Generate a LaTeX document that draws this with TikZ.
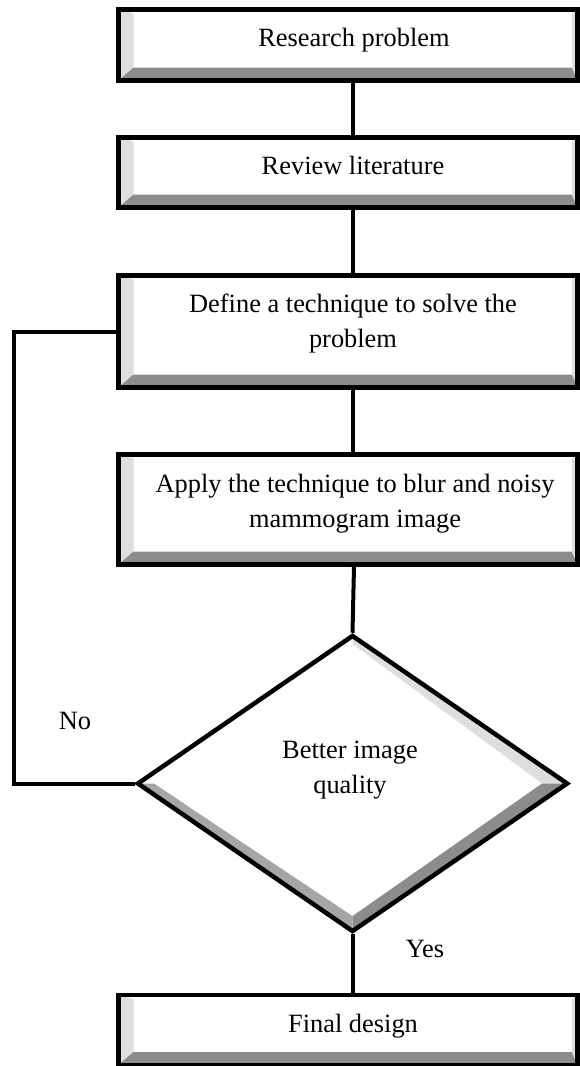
\documentclass[tikz,border=0pt]{standalone}
\usepackage{fontspec}
\setmainfont{Liberation Serif}
\usetikzlibrary{shapes.geometric}

\definecolor{bevlight}{gray}{0.87}
\definecolor{bevmid}{gray}{0.65}
\definecolor{bevdark}{gray}{0.55}

\begin{document}
\begin{tikzpicture}[x=0.5pt,y=-0.5pt,
	line/.style={line width=2pt},
	boxtext/.style={font=\fontsize{13.2}{17.5}\selectfont,align=center,inner sep=0pt,anchor=base},
	procbox/.style={draw,line width=2.25pt,fill=white,minimum width=229.5pt,inner sep=0pt,
		path picture={
			\coordinate (nw) at (path picture bounding box.north west);
			\coordinate (sw) at (path picture bounding box.south west);
			\coordinate (ne) at (path picture bounding box.north east);
			\coordinate (se) at (path picture bounding box.south east);
			% left, bottom and right bevels
			\fill[bevlight] (nw) -- (sw) -- ([shift={(7.5pt,6.5pt)}]sw) -- ([shift={(7.5pt,-2pt)}]nw) -- cycle;
			\fill[bevdark] (sw) -- (se) -- ([shift={(-2.75pt,6.5pt)}]se) -- ([shift={(7.5pt,6.5pt)}]sw) -- cycle;
			\fill[bevlight] (se) -- (ne) -- ([shift={(-2.75pt,-2pt)}]ne) -- ([shift={(-2.75pt,6.5pt)}]se) -- cycle;
		}},
	decision/.style={diamond,draw,line width=2.25pt,fill=white,inner sep=0pt,
		minimum width=215.5pt,minimum height=148.5pt,
		path picture={
			\coordinate (dn) at (path picture bounding box.north);
			\coordinate (de) at (path picture bounding box.east);
			\coordinate (ds) at (path picture bounding box.south);
			\coordinate (dw) at (path picture bounding box.west);
			\fill[bevlight] (dn) -- (de) -- ([xshift=-12.5pt]de) -- ([yshift=-4pt]dn) -- cycle;
			\fill[bevdark] (de) -- (ds) -- ([yshift=7.5pt]ds) -- ([xshift=-12.5pt]de) -- cycle;
			\fill[bevmid] (dw) -- (ds) -- ([yshift=7.5pt]ds) -- ([xshift=8pt]dw) -- cycle;
		}}]
	\useasboundingbox (0,0) rectangle (579,1066);

	% boxes
	\node[procbox,minimum height=35.5pt] (research) at (348,45) {};
	\node[procbox,minimum height=35pt] (review) at (348,172.5) {};
	\node[procbox,minimum height=56pt] (define) at (348,331.5) {};
	\node[procbox,minimum height=55pt] (apply) at (348,509.5) {};
	\node[decision] (decide) at (352.5,783.5) {};
	\node[procbox,minimum height=35pt] (final) at (348,1030) {};

	% texts
	\node[boxtext] (research-t) at (354,46) {Research problem};
	\node[boxtext] (review-t) at (353,174) {Review literature};
	\node[boxtext] (define-t) at (353,347) {Define a technique to solve the\\problem};
	\node[boxtext] (apply-t) at (355,527) {Apply the technique to blur and noisy\\mammogram image};
	\node[boxtext] (decide-t) at (350,793) {Better image\\quality};
	\node[boxtext] (final-t) at (353,1032) {Final design};
	\node[boxtext] (no) at (75,729) {No};
	\node[boxtext] (yes) at (425,957) {Yes};

	% connectors
	\draw[line] ([xshift=2.5pt]research.south) -- ([xshift=2.5pt]review.north);
	\draw[line] ([xshift=2.5pt]review.south) -- ([xshift=2.5pt]define.north);
	\draw[line] ([xshift=2.5pt]define.south) -- ([xshift=2.5pt]apply.north);
	\draw[line] ([xshift=3pt]apply.south) -- (decide.north);
	\draw[line] (decide.south) -- (decide.south |- final.north);
	\draw[line] (decide.west) -- ++(-121,0) |- (define.west);
\end{tikzpicture}
\end{document}
